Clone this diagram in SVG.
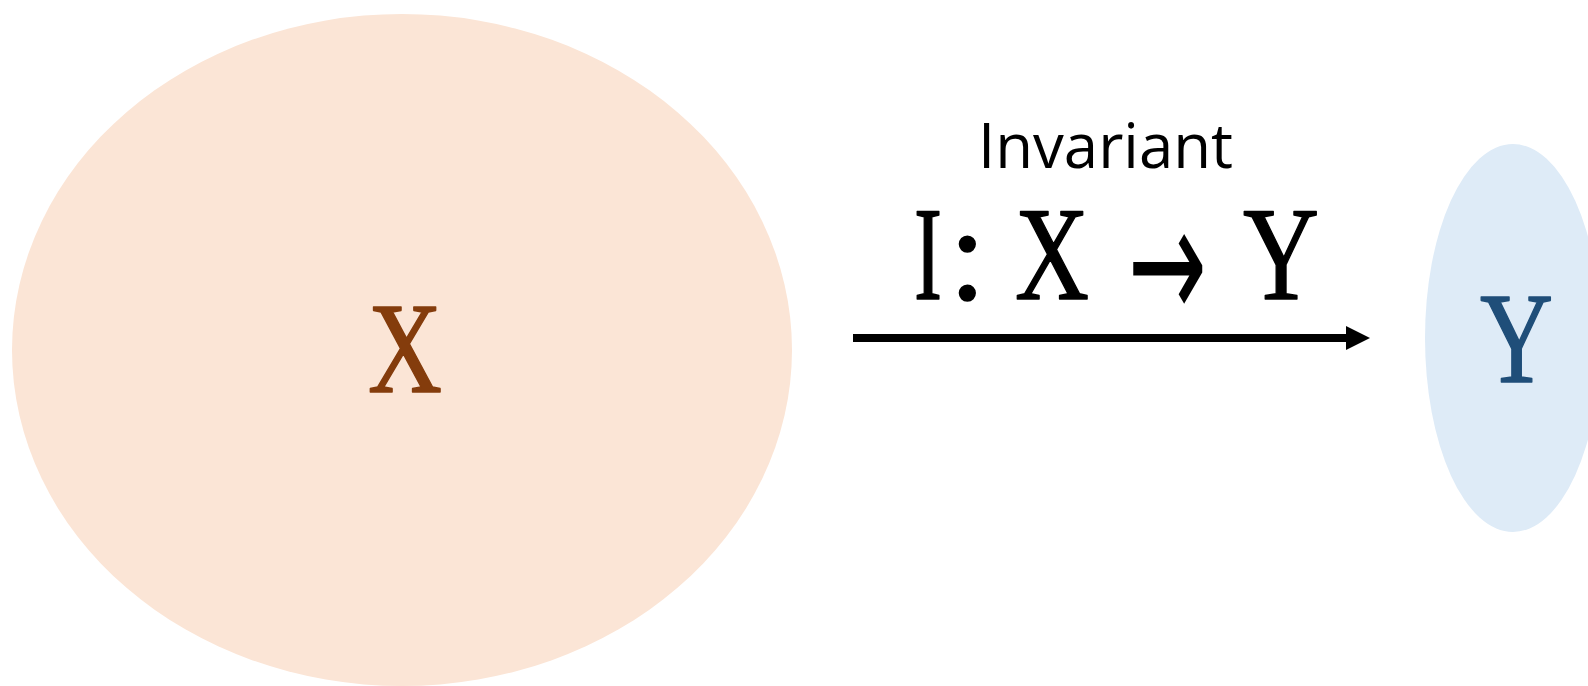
<svg xmlns="http://www.w3.org/2000/svg" width="1588" height="686" viewBox="0 0 1588 686">
<style>
.serif{font-family:"Liberation Serif","DejaVu Serif",serif;text-anchor:middle;stroke-width:1.6;stroke-linejoin:round}
.sans{font-family:"Open Sans","Noto Sans",sans-serif}
</style>
<defs>
<marker id="ah" markerUnits="userSpaceOnUse" markerWidth="24" markerHeight="24" refX="0" refY="11.5" orient="auto" viewBox="0 0 23 23">
<path d="M0,0 L23,11.5 L0,23 Z" fill="#000"/>
</marker>
</defs>
<rect width="1588" height="686" fill="#fff"/>
<g id="node-x">
<ellipse cx="402" cy="350" rx="390" ry="336" fill="#FBE5D6"/>
<text class="serif" x="405" y="392" font-size="130" fill="#843C0C" stroke="#843C0C" textLength="74" lengthAdjust="spacingAndGlyphs">X</text>
</g>
<g id="node-y">
<ellipse cx="1513" cy="338" rx="88" ry="194" fill="#DEEBF7"/>
<text class="serif" x="1516.5" y="382" font-size="130" fill="#1F4E79" stroke="#1F4E79" textLength="73" lengthAdjust="spacingAndGlyphs">Y</text>
</g>
<g id="connectors">
<line x1="853" y1="338" x2="1346" y2="338" stroke="#000" stroke-width="8" marker-end="url(#ah)"/>
<text class="sans" x="978" y="168" font-size="63" fill="#000" textLength="255" lengthAdjust="spacingAndGlyphs">Invariant</text>
<text class="serif" y="299" font-size="133" fill="#000" stroke="#000"><tspan x="928" textLength="28" lengthAdjust="spacingAndGlyphs">I</tspan><tspan x="967.5">:</tspan><tspan x="1052" textLength="74" lengthAdjust="spacingAndGlyphs">X</tspan><tspan x="1281" textLength="76" lengthAdjust="spacingAndGlyphs">Y</tspan></text>
<text x="1167.5" y="320" font-family="DejaVu Sans, sans-serif" text-anchor="middle" font-size="163" fill="#000" textLength="79" lengthAdjust="spacingAndGlyphs">→</text>
</g>
</svg>
